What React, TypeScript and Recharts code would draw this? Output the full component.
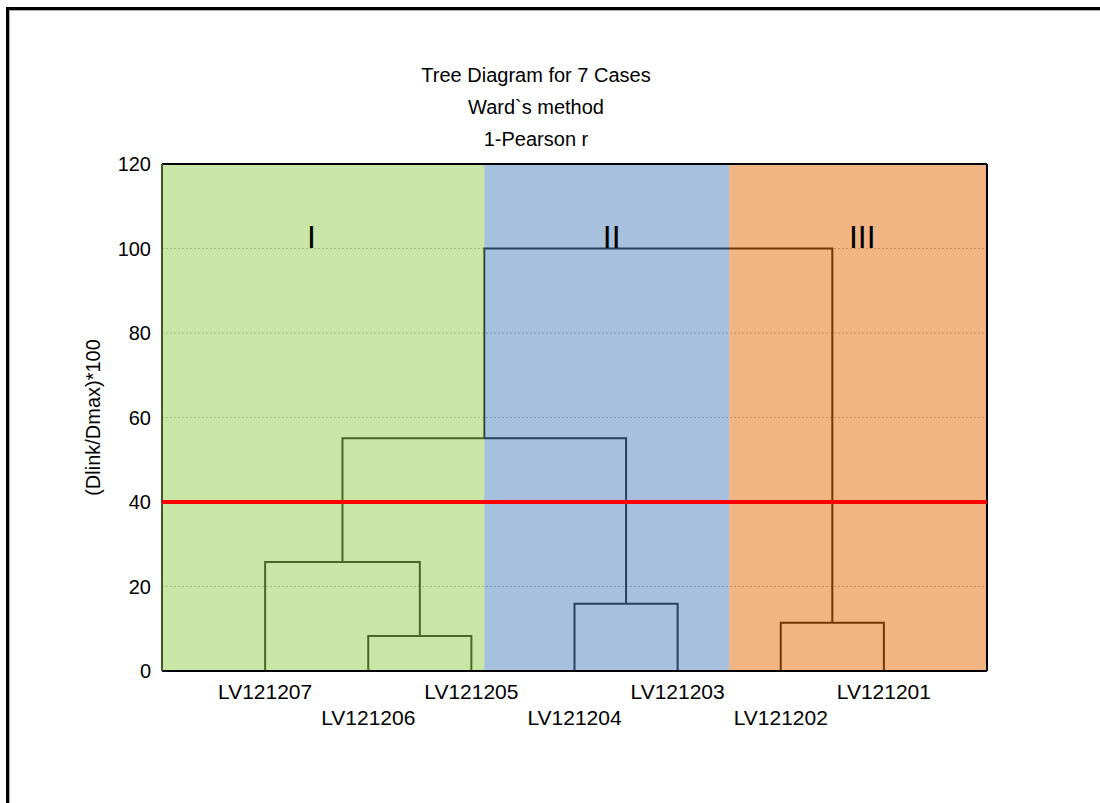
import React from 'react';
import {
  ComposedChart,
  Line,
  XAxis,
  YAxis,
  CartesianGrid,
  ReferenceArea,
  ReferenceLine,
  ReferenceDot,
} from 'recharts';

const FONT = '"Liberation Sans", Arial, Helvetica, sans-serif';

const titleLines = ['Tree Diagram for 7 Cases', 'Ward`s method', '1-Pearson r'];
const yAxisTitle = '(Dlink/Dmax)*100';

const leafLabels = ['LV121207', 'LV121206', 'LV121205', 'LV121204', 'LV121203', 'LV121202', 'LV121201'];
const leafTicks = [1, 2, 3, 4, 5, 6, 7];

// merge steps: nodes 0-6 are the leaves, 7+ are the earlier merges in order
const mergeLeft = [1, 5, 3, 0, 10, 11];
const mergeRight = [2, 6, 4, 7, 9, 8];
const mergeHeight = [8.3, 11.4, 15.9, 25.8, 55.1, 100];

const yTicks = [0, 20, 40, 60, 80, 100, 120];
const yMinorTicks = [0, 4, 8, 12, 16, 20, 24, 28, 32, 36, 40, 44, 48, 52, 56, 60, 64, 68, 72, 76, 80, 84, 88, 92, 96, 100, 104, 108, 112, 116, 120];

const cutHeight = 40;

const groupNames = ['I', 'II', 'III'];
const groupFrom = [0, 3.125, 5.5];
const groupTo = [3.125, 5.5, 8];
const groupLabelX = [1.45, 4.36, 6.79];
const groupColors = ['#92D050', '#4F81BD', '#E46C0A'];

// build the U-shaped links of the dendrogram
const nodeX = leafTicks.slice();
const nodeH = leafTicks.map(() => 0);
const links = mergeHeight.map((h, k) => {
  const l = mergeLeft[k];
  const r = mergeRight[k];
  nodeX.push((nodeX[l] + nodeX[r]) / 2);
  nodeH.push(h);
  return [
    { x: nodeX[l], y: nodeH[l] },
    { x: nodeX[l], y: h },
    { x: nodeX[r], y: h },
    { x: nodeX[r], y: nodeH[r] },
  ];
});

function LeafTick(props: any) {
  const { x, y, payload } = props;
  const i = leafTicks.indexOf(payload.value);
  if (i < 0) return null;
  return (
    <text
      x={x}
      y={y + (i % 2 ? 54 : 28)}
      textAnchor="middle"
      fontSize={21}
      fontFamily={FONT}
      fill="#000"
    >
      {leafLabels[i]}
    </text>
  );
}

export default function App() {
  return (
    <div
      style={{
        position: 'fixed',
        left: 0,
        top: 0,
        width: 1100,
        height: 803,
        overflow: 'hidden',
        background: '#fff',
        fontFamily: FONT,
      }}
    >
      <div
        style={{
          position: 'absolute',
          left: 6,
          top: 7,
          width: 2000,
          height: 2000,
          borderLeft: '3px solid #000',
          borderTop: '3px solid #000',
          boxShadow: 'inset 1px 1px 0 #b0b0b0',
        }}
      />
      <div style={{ position: 'absolute', left: 0, top: 0 }}>
        <ComposedChart
          width={1100}
          height={803}
          margin={{ top: 164, right: 113, bottom: 102, left: 102 }}
        >
          <CartesianGrid
            vertical={false}
            stroke="#a8a8a8"
            strokeDasharray="2 2"
          />
          <XAxis
            dataKey="x"
            type="number"
            domain={[0, 8]}
            ticks={leafTicks}
            allowDataOverflow
            height={30}
            tickLine={false}
            tickSize={0}
            tickMargin={0}
            axisLine={{ stroke: '#000', strokeWidth: 2 }}
            tick={<LeafTick />}
            interval={0}
          />
          <XAxis
            xAxisId="top"
            dataKey="x"
            type="number"
            orientation="top"
            mirror
            domain={[0, 8]}
            ticks={leafTicks}
            allowDataOverflow
            tick={false}
            tickSize={4}
            tickLine={{ stroke: '#000' }}
            axisLine={{ stroke: '#000', strokeWidth: 2 }}
          />
          <YAxis
            type="number"
            domain={[0, 120]}
            ticks={yTicks}
            allowDataOverflow
            width={60}
            tickLine={false}
            tickSize={0}
            tickMargin={11}
            axisLine={{ stroke: '#3f5a22', strokeWidth: 2 }}
            tick={{ fontSize: 20, fill: '#000', fontFamily: FONT }}
            interval={0}
          />
          <YAxis
            yAxisId="minor"
            type="number"
            domain={[0, 120]}
            ticks={yMinorTicks}
            mirror
            tick={false}
            tickSize={3}
            tickLine={{ stroke: '#3f5a22', strokeWidth: 2 }}
            axisLine={false}
            interval={0}
          />
          <YAxis
            yAxisId="right"
            orientation="right"
            type="number"
            domain={[0, 120]}
            ticks={yMinorTicks}
            mirror
            tick={false}
            tickSize={3}
            tickLine={{ stroke: '#5a3010', strokeWidth: 2 }}
            axisLine={{ stroke: '#000', strokeWidth: 2 }}
            interval={0}
          />
          {links.map((pts, i) => (
            <Line
              key={`link-${i}`}
              data={pts}
              dataKey="y"
              type="linear"
              stroke="#000"
              strokeWidth={2}
              dot={false}
              activeDot={false}
              isAnimationActive={false}
            />
          ))}
          {groupNames.map((g, i) => (
            <ReferenceArea
              key={`area-${g}`}
              x1={groupFrom[i]}
              x2={groupTo[i]}
              y1={0}
              y2={120}
              fill={groupColors[i]}
              fillOpacity={0.5}
              stroke="none"
              zIndex={450}
            />
          ))}
          <ReferenceLine
            y={cutHeight}
            stroke="#ff0000"
            strokeWidth={4}
            zIndex={700}
          />
          {groupNames.map((g, i) => (
            <ReferenceDot
              key={`name-${g}`}
              x={groupLabelX[i]}
              y={100}
              r={0}
              fill="none"
              stroke="none"
              zIndex={700}
              label={{ value: g, position: 'top', offset: 1, fontSize: 32, fill: '#000', fontFamily: FONT }}
            />
          ))}
        </ComposedChart>
      </div>
      <svg
        width={1100}
        height={803}
        style={{ position: 'absolute', left: 0, top: 0, pointerEvents: 'none' }}
      >
        {titleLines.map((t, i) => (
          <text
            key={t}
            x={536}
            y={82 + i * 32}
            textAnchor="middle"
            fontSize={20}
            fontFamily={FONT}
            fill="#000"
          >
            {t}
          </text>
        ))}
        <text
          x={0}
          y={0}
          transform="translate(93 417.5) rotate(-90)"
          textAnchor="middle"
          dominantBaseline="central"
          fontSize={20}
          fontFamily={FONT}
          fill="#000"
        >
          {yAxisTitle}
        </text>
      </svg>
    </div>
  );
}
